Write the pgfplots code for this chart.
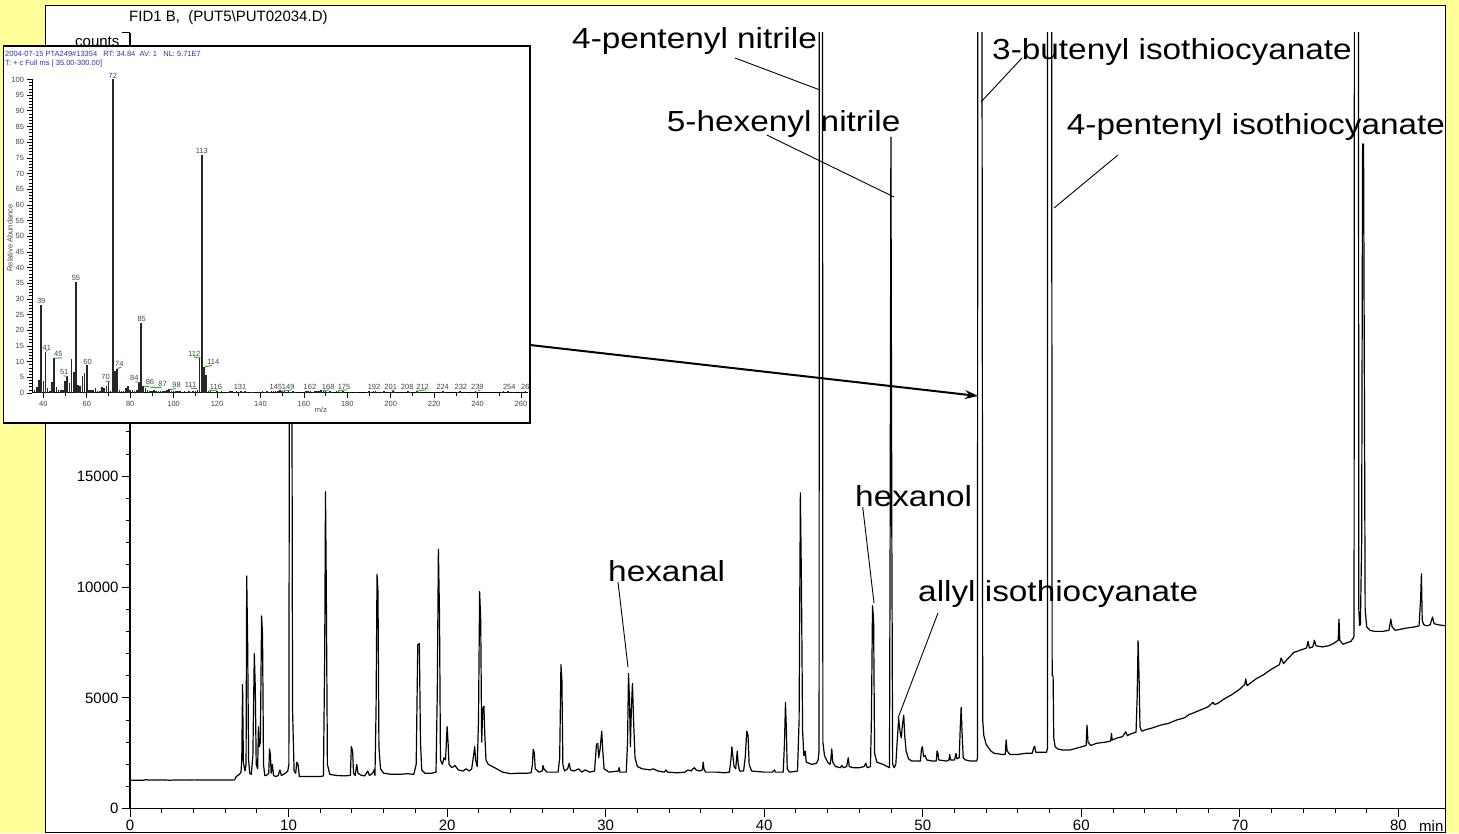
\documentclass[border=0pt]{standalone}
\usepackage{fontspec}
\setmainfont{Liberation Sans}
\usepackage{graphicx}
\usepackage{pgfplots}
\usepackage{pgfplotstable}
\pgfplotsset{compat=1.18}
\usetikzlibrary{arrows.meta}
\definecolor{bgyellow}{RGB}{255,255,153}
\definecolor{msblue}{RGB}{51,51,170}
\definecolor{msgray}{RGB}{70,70,70}
\definecolor{msgreen}{RGB}{40,190,40}
\newcommand{\lbl}[1]{\fontsize{29}{32}\selectfont\scalebox{1.15}[1]{#1}}

\pgfplotstableread{
t c
0 1280
0.8 1280
1.0 1310
1.2 1290
2.0 1300
2.5 1285
3.0 1300
3.5 1290
4.0 1300
5.0 1295
6.0 1295
6.6 1300
6.7 1450
6.8 1500
6.9 1550
7.0 1650
7.05 2200
7.1 5600
7.15 2100
7.25 1700
7.32 2000
7.36 10500
7.42 7500
7.48 2200
7.55 1600
7.65 1550
7.75 2400
7.84 7000
7.9 5500
7.96 2000
8.05 1800
8.1 3700
8.15 2800
8.22 3000
8.3 8700
8.36 7800
8.42 2000
8.5 1500
8.6 1500
8.75 1600
8.8 2700
8.86 2400
8.9 1600
8.98 2000
9.05 1500
9.2 1450
9.35 1500
9.45 1750
9.55 1500
9.8 1600
9.95 1700
10.02 2000
10.06 25000
10.2 25000
10.25 4500
10.35 1700
10.45 1600
10.52 2100
10.6 2000
10.68 1450
11.0 1450
12.0 1450
12.2 1480
12.28 7000
12.33 14300
12.38 10000
12.45 2000
12.6 1550
13.0 1500
13.5 1480
13.9 1500
13.96 2800
14.04 2600
14.1 1600
14.2 1500
14.3 2000
14.38 1600
14.6 1500
14.8 1480
15.0 1700
15.1 1500
15.3 1600
15.4 1750
15.45 1500
15.52 4500
15.58 10570
15.64 9800
15.7 2800
15.8 1800
16.0 1600
16.5 1550
17.0 1550
17.5 1580
17.9 1550
18.05 2000
18.15 7400
18.25 7450
18.32 3000
18.4 1750
18.6 1600
19.0 1600
19.3 1650
19.38 5200
19.45 11700
19.52 8800
19.58 2200
19.7 2000
19.8 2300
19.9 2200
20.0 3700
20.06 3000
20.12 2000
20.3 1850
20.5 1950
20.7 1750
21.0 1700
21.2 1800
21.4 1700
21.55 1800
21.65 2300
21.74 2800
21.8 2200
21.9 1900
21.98 4000
22.05 9800
22.12 8500
22.18 3000
22.25 4500
22.32 4630
22.38 3300
22.45 2200
22.6 2000
23.0 1850
23.5 1650
24.0 1580
24.5 1600
25.0 1600
25.3 1620
25.38 2000
25.43 2680
25.5 2500
25.56 1800
25.8 1650
26.0 1700
26.05 1950
26.1 1800
26.3 1650
26.7 1650
27.0 1650
27.1 2300
27.18 6500
27.24 5800
27.3 2000
27.4 1700
27.6 1800
27.7 2050
27.78 1750
28.0 1700
28.3 1800
28.5 1650
28.7 1750
29.0 1650
29.3 1700
29.42 2900
29.5 2950
29.56 2300
29.65 2700
29.75 3500
29.82 2600
29.9 1800
30.2 1650
30.8 1700
30.85 1850
30.9 1650
31.3 1650
31.38 3000
31.44 6100
31.5 5000
31.56 2800
31.62 4500
31.69 5650
31.76 4000
31.85 2300
32.0 1900
32.3 1800
32.8 1750
33.0 1800
33.3 1700
33.7 1650
33.8 1750
33.9 1650
34.5 1620
35.0 1650
35.2 1750
35.4 1700
35.5 1800
35.6 1850
35.7 1750
35.9 1700
36.1 1750
36.15 2100
36.2 1800
36.3 1650
36.8 1650
37.0 1650
37.5 1620
37.8 1650
37.9 2200
37.96 2790
38.02 2400
38.1 1900
38.2 1800
38.3 2600
38.36 2000
38.45 1700
38.7 1700
38.8 2300
38.9 3500
38.98 3300
39.05 2000
39.2 1700
40.0 1650
40.5 1650
40.65 1750
40.7 1650
41.2 1650
41.28 3000
41.34 4790
41.4 3500
41.45 1800
41.6 1650
42.1 1700
42.2 4000
42.28 14250
42.35 10000
42.42 3500
42.5 2400
42.58 2600
42.65 2100
43.0 2000
43.3 2050
43.4 2200
43.46 2600
43.48 60000
43.66 60000
43.7 3000
43.8 2400
44.0 2100
44.15 2000
44.2 2200
44.26 2700
44.32 2100
44.5 1900
44.8 1850
44.9 1950
45.0 1850
45.2 1900
45.3 2300
45.36 1900
45.6 1850
46.0 1850
46.3 1900
46.4 2050
46.5 1850
46.7 1900
46.76 4000
46.83 9160
46.9 8500
46.96 2500
47.1 2100
47.5 2000
47.9 1850
47.94 12000
47.99 30300
48.05 12000
48.1 2000
48.2 1850
48.3 2000
48.4 3200
48.48 4070
48.56 3500
48.64 3200
48.72 3800
48.8 4220
48.86 3300
48.95 2600
49.1 2250
49.3 2150
49.5 2150
49.85 2150
49.92 2700
49.98 2800
50.05 2350
50.15 2400
50.25 2200
50.6 2150
50.85 2150
50.9 2600
50.96 2500
51.0 2200
51.5 2150
51.65 2200
51.7 2450
51.75 2200
52.0 2200
52.1 2500
52.15 2250
52.3 2300
52.36 3600
52.42 4570
52.48 3400
52.55 2300
52.7 2200
53.0 2150
53.4 2150
53.45 2300
53.48 60000
53.7 60000
53.78 4000
53.85 3300
54.0 2900
54.3 2600
54.5 2500
55.0 2450
55.2 2450
55.26 3100
55.32 2600
55.5 2450
56.0 2450
56.5 2500
56.9 2500
57.0 2750
57.06 2820
57.12 2550
57.4 2550
57.8 2550
57.86 2700
57.88 60000
58.1 60000
58.16 6000
58.22 5990
58.26 3200
58.35 2800
58.5 2700
58.8 2650
59.3 2650
59.8 2750
60.3 2850
60.36 3770
60.42 3000
60.6 2850
60.95 2950
61.5 3000
61.85 3050
61.9 3390
61.95 3100
62.3 3200
62.6 3250
62.8 3470
62.9 3300
63.2 3400
63.45 3450
63.52 5000
63.58 7570
63.64 6000
63.7 3700
63.8 3500
64.0 3550
64.5 3650
65.0 3770
65.5 3850
66.0 4000
66.5 4100
66.8 4250
67.0 4300
67.5 4450
68.0 4600
68.3 4800
68.4 4700
68.6 4750
69.0 4950
69.5 5150
70.0 5400
70.3 5600
70.37 5850
70.45 5550
71.0 5850
71.5 6050
72.0 6300
72.5 6500
72.6 6800
72.75 6550
73.0 6750
73.4 7050
73.8 7150
74.2 7250
74.3 7550
74.38 7250
74.6 7300
74.7 7600
74.8 7350
75.2 7300
75.6 7350
75.9 7450
76.1 7550
76.2 7600
76.25 8550
76.3 7600
76.5 7420
77.0 7550
77.15 7700
77.2 7800
77.24 60000
77.46 60000
77.5 9000
77.55 8275
77.6 8300
77.68 12000
77.74 29990
77.8 29990
77.9 9000
78.0 8200
78.2 8050
78.5 8000
79.0 8000
79.4 8050
79.52 8550
79.6 8200
79.8 8050
80.5 8150
81.0 8200
81.3 8250
81.4 9500
81.45 10600
81.5 8500
81.6 8300
81.8 8250
82.0 8300
82.15 8650
82.25 8350
82.5 8300
83.0 8250
}\chrom

\pgfplotstableread{
mz ab
35 0.4
36 0.8
37 1.9
38 4.2
39 28
40 3.9
41 13
42 1.6
43 0.6
44 3.4
45 11.1
46 1.9
47 1.0
48 1.0
49 0.8
50 3.9
51 5.3
52 3.2
53 10.8
54 6.7
55 35.5
56 2.7
57 2.1
58 5.3
59 6.4
60 8.8
61 1.0
62 1.0
63 1.0
64 1.6
65 0.7
66 0.5
67 1.9
68 1.6
69 2.1
70 3.7
71 0.6
72 100
73 6.9
74 7.7
75 1.0
76 0.6
77 0.5
78 1.6
79 2.1
80 1.0
81 0.8
82 0.5
83 1.0
84 3.4
85 22.3
86 2.1
87 1.6
88 0.8
89 0.6
90 0.6
91 0.8
92 0.5
93 0.5
94 0.5
95 0.6
96 0.5
97 0.8
98 1.3
99 0.6
100 0.5
101 0.6
102 0.5
103 0.6
104 0.4
105 0.5
106 0.4
107 0.5
108 0.4
109 0.6
110 0.5
111 1.0
112 11.4
113 76
114 8.3
115 5.8
116 0.7
117 0.5
118 0.4
119 0.4
120 0.5
121 0.4
122 0.5
123 0.4
125 0.4
126 0.5
127 0.5
128 0.4
129 0.5
130 0.4
131 0.7
132 0.4
133 0.5
134 0.4
135 0.4
136 0.4
137 0.4
139 0.4
140 0.4
141 0.5
142 0.4
143 0.5
144 0.4
145 0.7
146 0.5
147 0.6
148 0.5
149 0.8
150 0.5
151 0.5
152 0.4
153 0.5
154 0.4
155 0.5
156 0.4
157 0.4
158 0.4
160 0.4
161 0.5
162 0.7
163 0.5
164 0.4
165 0.5
166 0.5
167 0.5
168 0.8
169 0.5
170 0.5
171 0.4
172 0.5
173 0.4
175 0.7
176 0.5
177 0.4
178 0.5
181 0.4
182 0.4
184 0.4
189 0.4
190 0.5
191 0.4
192 0.7
193 0.5
194 0.4
196 0.4
197 0.5
201 0.7
202 0.4
204 0.4
206 0.4
208 0.7
209 0.4
212 0.7
213 0.4
223 0.4
224 0.7
225 0.4
231 0.4
232 0.7
234 0.4
239 0.7
251 0.4
252 0.5
254 0.7
256 0.4
262 0.7
}\msdata

\pgfplotstableread{
x y lab
39 28 39
41.6 13.2 41
46.9 11.2 45
49.6 5.4 51
55 35.5 55
60.4 8.8 60
68.7 3.8 70
72 100 72
75 8 74
81.9 3.5 84
85.3 22.3 85
89.1 2.2 86
94.9 1.7 87
101.4 1.2 98
107.8 1.3 111
109.5 11.4 112
113 76 113
118.3 8.6 114
119.5 0.8 116
130.6 0.7 131
147.1 0.7 145
152.8 0.8 149
162.8 0.7 162
171.2 0.8 168
178.5 0.8 175
192.3 0.7 192
200 0.7 201
207.6 0.7 208
214.7 0.8 212
223.9 0.7 224
232.3 0.7 232
239.9 0.7 239
254.6 0.7 254
262 0.7 26
}\mslabels

\pgfplotstableread{
x y
41.2 13.3
41.8 13.6
nan nan
45.4 11.1
48.7 11.2
nan nan
49.2 5.5
51 5.3
nan nan
68.7 3.8
70.7 3.7
nan nan
74.1 7.8
76 8.3
nan nan
82.4 3.6
84.3 3.3
nan nan
86.2 2.1
88.8 2.1
nan nan
89.3 1.8
94.5 1.8
nan nan
98.3 1.1
101 1.4
nan nan
108 1.5
110.7 1.4
nan nan
109.3 11.5
112.4 11.2
nan nan
114.3 8.3
117.8 8.8
nan nan
116.4 0.8
120.1 0.9
nan nan
149.8 0.6
154.4 1.0
nan nan
168.7 0.7
171.7 1.0
nan nan
175.8 0.7
179.7 1.0
nan nan
200.4 1.0
202 0.6
nan nan
212 0.6
216.5 1.0
nan nan
240.3 0.6
241.1 1.0
}\msgreen

\begin{document}
\begin{tikzpicture}[x=1pt,y=1pt]
\useasboundingbox (0,0) rectangle (1459,833);
\fill[bgyellow] (0,0) rectangle (1459,833);
\filldraw[fill=white, draw=black, line width=1pt] (45.8,1) rectangle (1445,827.5);

% main chromatogram
\begin{axis}[
  at={(130pt,24.3pt)}, anchor=south west,
  scale only axis, width=1316pt, height=775.7pt,
  xmin=0, xmax=83, ymin=0, ymax=35000,
  axis lines=left, axis line style={-, line width=1.3pt},
  xtick={0,10,...,80}, xticklabels={0,10,20,30,40,50,60,70,80},
  minor x tick num=4,
  ytick={0,5000,...,35000},
  yticklabels={0,5000,10000,15000,{},{},{},{}},
  scaled y ticks=false, scaled x ticks=false,
  minor y tick num=4,
  tick align=outside,
  major tick length=8pt, minor tick length=4.5pt,
  every tick/.style={black, line width=1pt},
  tick label style={font=\fontsize{15}{18}\selectfont, black},
  /pgf/number format/assume math mode=true,
  clip=true,
]
\addplot[black, line width=1.2pt, line join=round] table[x=t,y=c] {\chrom};
\end{axis}

\begin{scope}[shift={(0,833)}, yscale=-1]
  \node[anchor=base west, inner sep=0, font=\fontsize{15}{18}\selectfont] at (129,21.5) {FID1 B,\ \ (PUT5\textbackslash PUT02034.D)};
  \node[anchor=base west, inner sep=0, font=\fontsize{15}{18}\selectfont] at (75,47) {counts};
  \node[anchor=base west, inner sep=0, font=\fontsize{15}{18}\selectfont] at (1419,831) {min};
  % compound labels
  \node[anchor=base west, inner sep=0] at (572,48.3) {\lbl{4-pentenyl nitrile}};
  \node[anchor=base west, inner sep=0] at (666.7,131.7) {\lbl{5-hexenyl nitrile}};
  \node[anchor=base west, inner sep=0] at (992,60) {\lbl{3-butenyl isothiocyanate}};
  \node[anchor=base west, inner sep=0] at (1066.7,135) {\lbl{4-pentenyl isothiocyanate}};
  \node[anchor=base west, inner sep=0] at (608,581.7) {\lbl{hexanal}};
  \node[anchor=base west, inner sep=0] at (855,507) {\lbl{hexanol}};
  \node[anchor=base west, inner sep=0] at (918,601.7) {\lbl{allyl isothiocyanate}};
  % leader lines
  \draw[line width=0.9pt] (735,58) -- (820,90);
  \draw[line width=0.9pt] (766.7,135) -- (894,197);
  \draw[line width=0.9pt] (1022,58) -- (981,102);
  \draw[line width=0.9pt] (1118,155) -- (1054,208);
  \draw[line width=0.9pt] (618,582) -- (628,667);
  \draw[line width=0.9pt] (862.7,507) -- (874,603);
  \draw[line width=0.9pt] (938,613) -- (898,718);
  % arrow
  \draw[line width=2pt, -{Stealth[length=13pt,width=9pt]}] (530,345) -- (978,396);
  % inset box
  \filldraw[fill=white, draw=black, line width=1.2pt] (3.3,46) rectangle (530,423);
  \node[anchor=base west, inner sep=0, text=msblue, font=\fontsize{7.5}{9}\selectfont] at (5,57) {2004-07-15 PTA249\#13354\ \ \ RT: 34.84\ \ AV: 1\ \ \ NL: 5.71E7};
  \node[anchor=base west, inner sep=0, text=msblue, font=\fontsize{7.5}{9}\selectfont] at (5,66) {T: + c Full ms [ 35.00-300.00]};
  \node[rotate=90, inner sep=0, text=msgray, font=\fontsize{7.5}{9}\selectfont] at (10,238) {Relative Abundance};
  \node[inner sep=0, text=msgray, font=\fontsize{7.5}{9}\selectfont] at (321,410) {m/z};
\end{scope}

% inset mass spectrum
\begin{axis}[
  at={(32.5pt,440pt)}, anchor=south west,
  scale only axis, width=495pt, height=313.5pt,
  xmin=35, xmax=263, ymin=0, ymax=100,
  axis lines=left, axis line style={-, line width=1pt},
  xtick={40,60,...,260}, minor xtick={50,70,...,250},
  ytick={0,5,...,100}, minor y tick num=4,
  tick align=outside,
  major tick length=5pt, minor tick length=3.5pt,
  every tick/.style={black, line width=0.7pt},
  tick label style={font=\fontsize{7.5}{9}\selectfont, text=msgray},
  /pgf/number format/assume math mode=true,
  clip=false,
]
\addplot[ycomb, black!85, line width=1.6pt] table[x=mz,y=ab] {\msdata};
\addplot[msgreen, line width=1pt, unbounded coords=jump] table[x=x,y=y] {\msgreen};
\addplot[draw=none, mark=none, nodes near coords, point meta=explicit symbolic,
  nodes near coords style={anchor=south, inner sep=1pt, text=msgray, font=\fontsize{7.5}{9}\selectfont}]
  table[x=x,y=y,meta=lab] {\mslabels};
\end{axis}
\end{tikzpicture}
\end{document}
